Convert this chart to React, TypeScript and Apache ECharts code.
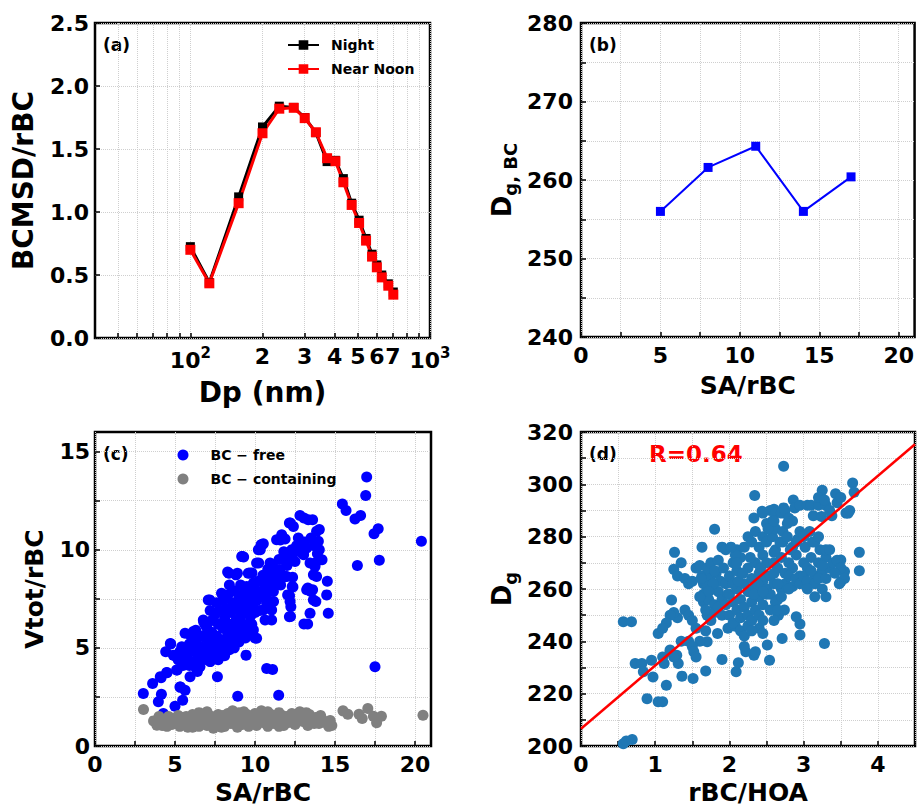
import React, { useEffect, useRef } from 'react';
import * as echarts from 'echarts';

// ---------- Panel (a) ----------
const DP_NM = [100, 120, 159, 200, 235, 270, 300, 334, 372, 403, 435, 471, 506, 541, 573, 600, 629, 670, 703];
const NIGHT = [0.725, 0.44, 1.12, 1.675, 1.84, 1.83, 1.75, 1.63, 1.40, 1.41, 1.265, 1.07, 0.935, 0.79, 0.665, 0.58, 0.50, 0.43, 0.365];
const NEAR_NOON = [0.70, 0.434, 1.07, 1.625, 1.82, 1.827, 1.745, 1.633, 1.427, 1.403, 1.236, 1.056, 0.913, 0.773, 0.646, 0.561, 0.481, 0.415, 0.344];
const LOG_TICKS = [50, 60, 70, 80, 90, 100, 200, 300, 400, 500, 600, 700, 800, 900, 1000];
const LOG_LABELS = [100, 200, 300, 400, 500, 600, 700, 1000];

// ---------- Panel (b) ----------
const SA_RBC_B = [5, 8, 11, 14, 17];
const DG_BC = [256.0, 261.6, 264.3, 256.0, 260.4];

// ---------- Panel (c) ----------
const BC_FREE: number[][] = [
  [3.02, 2.67], [3.6, 3.19], [3.96, 2.25], [4.15, 2.64], [4.13, 3.48], [4.27, 1.65], [4.48, 3.75], [4.42, 4.8],
  [4.73, 5.2], [4.9, 4.63], [5.0, 2.03], [5.1, 3.87], [5.31, 3.0], [5.48, 2.33], [5.63, 2.84], [5.94, 3.53],
  [5.63, 5.74], [6.15, 5.83], [5.42, 5.06], [5.83, 4.72], [6.35, 4.38], [6.56, 4.04], [6.77, 6.42], [7.08, 7.44],
  [7.65, 3.53], [8.92, 2.54], [9.44, 4.63], [9.17, 9.66], [9.58, 8.8], [8.29, 8.86], [8.81, 8.72], [10.73, 3.95],
  [11.1, 3.9], [11.48, 2.59], [12.15, 6.59], [13.06, 6.22], [13.29, 6.22], [13.44, 6.76], [13.65, 7.44], [13.23, 7.96],
  [13.6, 7.96], [12.04, 7.7], [12.19, 7.36], [12.33, 8.13], [12.35, 8.6], [10.21, 10.0], [10.38, 10.26], [10.52, 10.3],
  [10.1, 9.32], [10.94, 9.32], [11.35, 10.51], [11.67, 10.77], [11.88, 10.55], [12.15, 11.36], [12.4, 11.19], [12.81, 11.74],
  [13.06, 11.62], [13.33, 11.53], [13.6, 11.53], [13.85, 10.94], [13.96, 10.43], [14.02, 10.0], [14.06, 9.49], [13.75, 9.15],
  [13.65, 8.72], [13.85, 8.64], [13.44, 9.32], [12.71, 10.6], [12.92, 10.26], [13.23, 10.09], [13.02, 9.83], [12.29, 9.66],
  [11.77, 9.49], [11.56, 8.98], [11.67, 8.55], [11.98, 8.64], [11.15, 8.47], [10.73, 8.04], [11.15, 7.87], [10.73, 7.27],
  [11.04, 6.93], [11.04, 6.42], [10.63, 6.42], [10.52, 6.93], [10.1, 5.49], [9.9, 5.91], [10.31, 7.79], [9.9, 8.3],
  [9.48, 8.13], [16.98, 13.71], [16.92, 12.76], [15.46, 12.33], [15.69, 12.0], [16.25, 11.57], [16.6, 11.75], [17.7, 11.07],
  [17.44, 10.82], [20.4, 10.43], [16.4, 9.2], [17.77, 9.47], [17.5, 4.04], [14.58, 6.76], [14.48, 7.7], [14.52, 8.4],
  [5.5, 4.1], [5.7, 4.6], [5.9, 5.2], [6.0, 4.3], [6.1, 4.9], [6.2, 5.4], [6.3, 4.0], [6.4, 4.7], [6.5, 5.1], [6.6, 5.6],
  [6.7, 4.5], [6.8, 5.0], [6.9, 5.5], [7.0, 6.0], [7.0, 4.4], [7.1, 4.8], [7.2, 5.3], [7.3, 5.8], [7.3, 6.4], [7.4, 4.6],
  [7.5, 5.1], [7.5, 6.7], [7.6, 5.6], [7.7, 6.2], [7.7, 4.4], [7.8, 4.9], [7.8, 6.9], [7.9, 5.4], [8.0, 6.0], [8.0, 7.4],
  [8.1, 4.6], [8.1, 6.5], [8.2, 5.2], [8.2, 7.0], [8.3, 5.7], [8.3, 7.7], [8.4, 6.2], [8.4, 4.9], [8.5, 6.8], [8.5, 5.4],
  [8.6, 7.3], [8.6, 6.0], [8.7, 5.0], [8.7, 7.9], [8.8, 6.4], [8.8, 5.6], [8.9, 7.0], [8.9, 6.0], [9.0, 7.6], [9.0, 5.3],
  [9.1, 6.6], [9.1, 8.2], [9.2, 5.8], [9.2, 7.2], [9.3, 6.2], [9.3, 7.8], [9.4, 5.5], [9.4, 6.9], [9.5, 7.4], [9.5, 6.1],
  [9.6, 8.0], [9.6, 5.7], [9.7, 6.6], [9.7, 7.1], [9.8, 7.7], [9.8, 6.2], [9.9, 7.3], [10.0, 8.0], [10.0, 6.8], [10.1, 7.4],
  [10.2, 8.4], [10.3, 6.9], [10.4, 7.6], [10.5, 8.7], [10.6, 8.2], [10.7, 7.6], [10.8, 9.0], [10.9, 8.5], [11.0, 7.9], [11.1, 9.2],
  [11.2, 8.7], [11.3, 8.2], [11.5, 9.5], [11.6, 8.2], [11.8, 9.9], [12.0, 9.2], [12.3, 10.0], [12.5, 9.4], [12.6, 10.2], [12.8, 9.9],
  [13.1, 10.4], [13.5, 10.6], [13.7, 10.2], [13.9, 9.8], [6.8, 6.3], [7.2, 6.9], [7.6, 7.3], [8.0, 7.7], [8.4, 8.2], [6.3, 5.9],
  [6.0, 5.6], [5.8, 5.0], [5.6, 4.4], [5.2, 4.4], [5.3, 4.8], [5.0, 4.6], [5.9, 4.1], [6.4, 3.8], [7.2, 4.3], [6.9, 6.2],
  [7.18, 7.44], [7.91, 7.78], [8.37, 8.8], [8.9, 8.8], [9.21, 9.66], [9.67, 8.81], [6.24, 5.74], [6.9, 6.16], [4.71, 5.22],
  [4.5, 3.73], [4.08, 3.53], [5.34, 3.0], [5.13, 3.87], [10.43, 10.26], [10.33, 10.0], [9.29, 9.63], [11.9, 9.58], [12.3, 9.66],
  [13.04, 9.75], [14.19, 9.49], [13.77, 9.32], [11.02, 9.24], [10.23, 9.32], [9.81, 8.81], [11.27, 8.81], [11.9, 8.64],
  [11.06, 8.21], [10.43, 7.79], [11.16, 7.36], [12.24, 7.1], [10.0, 5.5], [12.22, 6.6], [13.8, 7.36], [13.5, 7.87],
  [12.16, 7.65], [12.37, 8.1], [13.3, 8.05], [14.02, 11.03], [12.21, 11.36], [11.58, 10.5]
];
const BC_CONTAINING: number[][] = [
  [3.03, 1.86], [3.66, 1.28], [3.87, 1.06], [4.1, 1.35], [4.2, 1.05], [4.4, 1.2], [4.6, 1.5], [4.8, 1.1], [4.9, 1.4],
  [5.0, 1.25], [5.2, 1.55], [5.3, 1.0], [5.4, 1.3], [5.6, 1.15], [5.7, 1.5], [5.8, 0.95], [5.9, 1.35], [6.1, 1.6],
  [6.2, 1.1], [6.3, 1.3], [6.5, 1.0], [6.6, 1.45], [6.7, 1.2], [6.9, 1.6], [7.0, 1.05], [7.1, 1.35], [7.3, 1.5],
  [7.4, 0.9], [7.5, 1.25], [7.7, 1.6], [7.8, 1.1], [7.9, 1.4], [8.1, 1.0], [8.2, 1.3], [8.3, 1.65], [8.5, 1.15],
  [8.6, 1.45], [8.8, 1.25], [8.9, 0.95], [9.0, 1.55], [9.2, 1.1], [9.3, 1.75], [9.4, 1.35], [9.6, 1.0], [9.7, 1.5],
  [9.8, 1.2], [10.0, 1.65], [10.1, 1.05], [10.2, 1.35], [10.4, 1.8], [10.5, 1.2], [10.6, 1.5], [10.8, 1.0], [10.9, 1.3],
  [11.0, 1.6], [11.2, 1.15], [11.4, 1.45], [11.5, 1.7], [11.6, 1.25], [11.8, 1.05], [12.0, 1.5], [12.2, 1.3], [12.3, 1.65],
  [12.5, 1.1], [12.6, 1.4], [12.8, 1.75], [13.0, 1.25], [13.1, 1.5], [13.3, 1.05], [13.4, 1.6], [13.6, 1.3], [13.8, 1.45],
  [14.0, 1.15], [14.2, 1.35], [14.4, 1.2], [14.6, 1.0], [14.7, 1.3], [15.5, 1.79], [15.8, 1.62], [16.5, 1.62], [16.7, 1.4],
  [17.05, 1.91], [17.4, 1.52], [17.6, 1.18], [17.9, 1.52], [20.5, 1.57], [5.1, 1.2], [5.5, 1.45], [6.0, 1.25], [6.4, 1.55],
  [6.8, 1.35], [7.2, 1.2], [7.6, 1.4], [8.0, 1.55], [8.4, 1.2], [8.7, 1.6], [9.1, 1.4], [9.5, 1.6], [9.9, 1.35], [10.3, 1.55],
  [10.7, 1.7], [11.1, 1.4], [11.7, 1.55], [12.1, 1.2], [12.7, 1.3], [13.2, 1.7], [13.7, 1.15], [14.1, 1.55], [4.5, 1.0], [4.0, 1.5],
  [6.5, 1.7], [7.0, 1.75], [8.6, 1.8], [9.0, 1.7], [10.8, 1.75], [12.9, 1.6], [14.8, 1.05], [6.1, 0.95], [7.9, 0.95], [11.5, 1.0]
];

// ---------- Panel (d) ----------
const RBC_HOA_DG: number[][] = [
  [2.73, 306.9], [0.57, 200.9], [0.61, 201.9], [0.69, 202.5], [0.57, 247.5], [0.68, 247.5], [0.73, 231.5], [0.82, 231.5],
  [0.84, 228.4], [0.95, 232.8], [0.97, 226.4], [0.89, 218.1], [1.04, 216.9], [1.1, 216.9], [1.15, 223.2], [1.04, 243],
  [1.1, 234], [1.12, 231.5], [1.22, 255.8], [1.2, 236.7], [1.29, 234.7], [1.31, 231.5], [1.36, 226.7], [1.51, 225.8],
  [1.68, 228.7], [1.9, 233.1], [2.09, 228.4], [2.12, 231.8], [2.33, 234.7], [2.22, 236], [2.54, 232.8], [2.51, 238.6],
  [3.28, 239.2], [1.7, 239.8], [1.84, 243], [1.98, 245], [2.08, 245.8], [2.71, 241.1], [2.95, 242.4], [2.95, 246.6],
  [2.9, 249.4], [2.66, 250], [2.74, 252], [1.8, 282.8], [1.63, 276], [1.26, 274], [2.34, 295.7], [2.33, 287.1],
  [2.44, 289.7], [3.66, 300.5], [3.68, 297], [3.25, 297.7], [3.43, 296.4], [3.75, 274], [3.75, 267], [3.57, 289],
  [3.5, 262.8], [3.55, 266.7], [3.5, 271.1], [3.13, 288], [3.24, 287.7], [2.86, 294], [2.73, 291], [2.6, 290.5],
  [1.25, 267.5], [1.3, 265], [1.35, 270], [1.4, 264], [1.45, 262], [1.5, 263], [1.55, 268], [1.6, 269], [1.63, 265],
  [1.65, 262], [1.4, 252], [1.45, 250], [1.5, 248], [1.55, 245], [1.6, 240], [1.45, 240], [1.5, 238], [1.52, 236],
  [1.55, 234], [1.3, 249], [1.25, 251], [1.2, 250], [1.15, 247], [1.1, 245], [1.35, 240], [1.2, 236], [1.25, 234],
  [1.68, 244], [1.7, 250], [1.65, 255], [1.65, 258], [1.7, 262], [1.72, 256], [1.75, 265], [1.78, 260], [1.8, 254],
  [1.82, 266], [1.85, 259], [1.88, 263], [1.9, 256], [1.7, 268], [1.75, 270], [1.8, 267], [1.85, 271], [1.9, 276],
  [1.95, 275], [1.92, 268], [1.95, 262], [1.98, 258], [1.68, 252], [1.75, 248], [1.8, 251], [1.85, 253], [1.9, 250],
  [1.95, 254], [1.78, 262], [1.72, 259], [1.62, 264], [1.6, 257], [2.0, 265], [2.05, 270], [2.1, 275], [2.15, 272],
  [2.2, 276], [2.25, 280], [2.3, 278], [2.35, 282], [2.4, 276], [2.45, 273], [2.5, 270], [2.0, 258], [2.05, 255],
  [2.1, 260], [2.15, 256], [2.2, 262], [2.25, 259], [2.3, 264], [2.35, 261], [2.4, 266], [2.45, 263], [2.5, 260],
  [2.0, 250], [2.05, 247], [2.1, 252], [2.15, 249], [2.2, 253], [2.25, 250], [2.3, 255], [2.35, 252], [2.4, 257],
  [2.45, 254], [2.5, 258], [2.15, 244], [2.2, 242], [2.25, 246], [2.3, 248], [2.4, 245], [2.45, 243], [2.4, 250],
  [2.05, 262], [2.1, 267], [2.25, 268], [2.35, 270], [2.45, 280], [2.5, 278], [2.55, 284], [2.5, 285], [2.58, 286],
  [2.08, 273], [2.12, 263], [2.18, 266], [2.28, 272], [2.33, 258], [2.38, 262], [2.42, 268], [2.48, 265], [2.02, 276],
  [2.1, 270], [2.3, 244], [2.2, 238], [2.35, 236], [2.45, 248], [2.55, 265], [2.6, 270], [2.62, 275], [2.65, 268],
  [2.7, 272], [2.72, 278], [2.75, 266], [2.8, 270], [2.82, 275], [2.85, 268], [2.9, 273], [2.92, 279], [2.95, 265],
  [3.0, 270], [3.02, 276], [3.05, 268], [3.1, 272], [3.12, 278], [3.15, 265], [3.2, 270], [3.22, 275], [3.25, 267],
  [3.3, 272], [3.35, 268], [3.4, 270], [2.55, 258], [2.6, 262], [2.65, 256], [2.7, 260], [2.75, 262], [2.8, 265],
  [2.85, 261], [2.9, 264], [2.95, 262], [3.0, 265], [3.05, 263], [3.1, 267], [3.15, 262], [3.2, 264], [3.3, 264],
  [3.25, 260], [3.3, 257], [3.15, 257], [3.05, 260], [2.58, 280], [2.62, 283], [2.68, 278], [2.72, 282], [2.78, 280],
  [2.85, 276], [2.9, 278], [2.95, 282], [3.0, 280], [3.08, 282], [3.15, 278], [3.2, 280], [3.3, 275], [3.45, 271],
  [3.5, 268], [3.55, 264], [2.62, 255], [2.55, 252], [2.6, 248], [2.65, 252], [2.7, 257], [2.8, 260], [2.55, 290],
  [2.62, 289], [2.7, 289], [2.75, 290], [2.8, 287], [2.85, 286], [2.88, 291], [2.95, 292], [3.05, 292], [3.1, 292],
  [3.2, 292], [3.3, 292], [3.35, 290], [3.38, 288], [3.45, 293], [3.5, 295], [3.6, 289], [3.62, 290], [3.2, 295],
  [3.28, 294], [2.45, 289], [2.52, 283], [2.6, 286], [2.78, 285], [3.25, 269], [3.35, 275], [3.42, 266], [3.48, 262],
  [2.6, 274], [2.65, 262], [2.45, 259], [2.6, 266]
];
const FIT_X = [0, 4.5];
const FIT_Y = [206.6, 315.3];
const R_TEXT = 'R=0.64';

// ---------- Ticks ----------
const B_X_TICKS = [0, 2.5, 5, 7.5, 10, 12.5, 15, 17.5, 20];
const B_X_LABELS = [0, 5, 10, 15, 20];
const B_Y_TICKS = [240, 245, 250, 255, 260, 265, 270, 275, 280];
const B_Y_LABELS = [240, 250, 260, 270, 280];
const C_Y_TICKS = [0, 2.5, 5, 7.5, 10, 12.5, 15];
const C_Y_LABELS = [0, 5, 10, 15];
const D_X_TICKS = [0, 0.5, 1, 1.5, 2, 2.5, 3, 3.5, 4, 4.5];
const D_X_LABELS = [0, 1, 2, 3, 4];
const D_Y_TICKS = [200, 210, 220, 230, 240, 250, 260, 270, 280, 290, 300, 310, 320];
const D_Y_LABELS = [200, 220, 240, 260, 280, 300, 320];

const FONT = '"DejaVu Sans", Verdana, sans-serif';

const tick = (vals: number[]) => ({
  show: true, inside: true, length: 5, customValues: vals,
  lineStyle: { color: '#000', width: 1.5 },
});
const split = { show: true, lineStyle: { color: '#cfcfcf', type: 'dotted', width: 1 } };
const lbl = (vals: number[], margin: number) => ({
  customValues: vals, color: '#000', fontFamily: FONT, fontWeight: 'bold', fontSize: 22, margin,
});
const nameStyle = (size: number) => ({ color: '#000', fontFamily: FONT, fontWeight: 'bold', fontSize: size });

export default function App() {
  const ref = useRef<HTMLDivElement>(null);
  useEffect(() => {
    if (!ref.current) return;
    const chart = echarts.init(ref.current, undefined, { renderer: 'svg' });
    const gridBase = { show: true, borderColor: '#000', borderWidth: 2.5, backgroundColor: 'transparent', containLabel: false };
    const lg = (v: number) => Math.log10(v);
    const option: any = {
      animation: false,
      backgroundColor: '#fff',
      grid: [
        { ...gridBase, left: 95, top: 23, width: 335, height: 315 },
        { ...gridBase, left: 581, top: 23, width: 334, height: 314 },
        { ...gridBase, left: 95, top: 432, width: 336, height: 314 },
        { ...gridBase, left: 581, top: 432, width: 334, height: 314 },
      ],
      xAxis: [
        {
          gridIndex: 0, type: 'value', min: lg(40), max: 3,
          axisLine: { show: false },
          axisTick: tick(LOG_TICKS.map(lg)),
          splitLine: split,
          axisLabel: {
            ...lbl(LOG_LABELS.map(lg), 7),
            formatter: (v: number) => {
              const n = Math.round(Math.pow(10, v));
              if (n === 100) return '{b|10}{s|2}';
              if (n === 1000) return '{b|10}{s|3}';
              return '{b|' + n / 100 + '}';
            },
            rich: {
              b: { fontSize: 22, fontWeight: 'bold', fontFamily: FONT, color: '#000', verticalAlign: 'bottom' },
              s: { fontSize: 15, fontWeight: 'bold', fontFamily: FONT, color: '#000', verticalAlign: 'bottom', padding: [0, 0, 11, 0] },
            },
          },
          name: 'Dp (nm)', nameLocation: 'middle', nameGap: 40, nameTextStyle: nameStyle(28),
        },
        {
          gridIndex: 1, type: 'value', min: 0, max: 21,
          axisLine: { show: false }, axisTick: tick(B_X_TICKS), splitLine: split, axisLabel: lbl(B_X_LABELS, 7),
          name: 'SA/rBC', nameLocation: 'middle', nameGap: 36, nameTextStyle: nameStyle(25),
        },
        {
          gridIndex: 2, type: 'value', min: 0, max: 21,
          axisLine: { show: false }, axisTick: tick(B_X_TICKS), splitLine: split, axisLabel: lbl(B_X_LABELS, 7),
          name: 'SA/rBC', nameLocation: 'middle', nameGap: 34, nameTextStyle: nameStyle(25),
        },
        {
          gridIndex: 3, type: 'value', min: 0, max: 4.5,
          axisLine: { show: false }, axisTick: tick(D_X_TICKS), splitLine: split, axisLabel: lbl(D_X_LABELS, 7),
          name: 'rBC/HOA', nameLocation: 'middle', nameGap: 34, nameTextStyle: nameStyle(25),
        },
      ],
      yAxis: [
        {
          gridIndex: 0, type: 'value', min: 0, max: 2.5, interval: 0.5,
          axisLine: { show: false },
          axisTick: { show: true, inside: true, length: 5, lineStyle: { color: '#000', width: 1.5 } },
          splitLine: split,
          axisLabel: { color: '#000', fontFamily: FONT, fontWeight: 'bold', fontSize: 22, margin: 6, formatter: (v: number) => v.toFixed(1) },
          name: 'BCMSD/rBC', nameLocation: 'middle', nameRotate: 90, nameGap: 58, nameTextStyle: nameStyle(28),
        },
        {
          gridIndex: 1, type: 'value', min: 240, max: 280,
          axisLine: { show: false }, axisTick: tick(B_Y_TICKS), splitLine: split, axisLabel: lbl(B_Y_LABELS, 8),
          name: '{d|D}{s|g, BC}', nameLocation: 'middle', nameRotate: 90, nameGap: 62,
          nameTextStyle: {
            ...nameStyle(26),
            rich: {
              d: { fontSize: 26, fontWeight: 'bold', fontFamily: FONT, color: '#000', verticalAlign: 'top' },
              s: { fontSize: 18, fontWeight: 'bold', fontFamily: FONT, color: '#000', verticalAlign: 'top', padding: [12, 0, 0, 0] },
            },
          },
        },
        {
          gridIndex: 2, type: 'value', min: 0, max: 16,
          axisLine: { show: false }, axisTick: tick(C_Y_TICKS), splitLine: split, axisLabel: lbl(C_Y_LABELS, 5),
          name: 'Vtot/rBC', nameLocation: 'middle', nameRotate: 90, nameGap: 48, nameTextStyle: nameStyle(25),
        },
        {
          gridIndex: 3, type: 'value', min: 200, max: 320,
          axisLine: { show: false }, axisTick: tick(D_Y_TICKS), splitLine: split, axisLabel: lbl(D_Y_LABELS, 8),
          name: '{d|D}{s|g}', nameLocation: 'middle', nameRotate: 90, nameGap: 62,
          nameTextStyle: {
            ...nameStyle(26),
            rich: {
              d: { fontSize: 26, fontWeight: 'bold', fontFamily: FONT, color: '#000', verticalAlign: 'top' },
              s: { fontSize: 18, fontWeight: 'bold', fontFamily: FONT, color: '#000', verticalAlign: 'top', padding: [12, 0, 0, 0] },
            },
          },
        },
      ],
      legend: [
        {
          data: ['Night', 'Near Noon'], orient: 'vertical', left: 287, top: 38, padding: 0,
          itemWidth: 31, itemHeight: 12, itemGap: 10,
          textStyle: { color: '#000', fontFamily: FONT, fontWeight: 'bold', fontSize: 14, padding: [0, 0, 0, 7] },
        },
        {
          data: ['BC − free', 'BC − containing'], orient: 'vertical', left: 177.5, top: 448, padding: 0,
          itemWidth: 11, itemHeight: 11, itemGap: 10,
          textStyle: { color: '#000', fontFamily: FONT, fontWeight: 'bold', fontSize: 14, padding: [0, 0, 0, 17] },
        },
      ],
      series: [
        {
          name: 'Night', type: 'line', xAxisIndex: 0, yAxisIndex: 0,
          data: DP_NM.map((d, i) => [lg(d), NIGHT[i]]),
          symbol: 'rect', symbolSize: 9, color: '#000',
          lineStyle: { color: '#000', width: 3 }, itemStyle: { color: '#000' },
        },
        {
          name: 'Near Noon', type: 'line', xAxisIndex: 0, yAxisIndex: 0,
          data: DP_NM.map((d, i) => [lg(d), NEAR_NOON[i]]),
          symbol: 'rect', symbolSize: 10, color: '#ff0000',
          lineStyle: { color: '#ff0000', width: 3 }, itemStyle: { color: '#ff0000' },
        },
        {
          name: 'Dg_BC', type: 'line', xAxisIndex: 1, yAxisIndex: 1,
          data: SA_RBC_B.map((x, i) => [x, DG_BC[i]]),
          symbol: 'rect', symbolSize: 9,
          lineStyle: { color: '#0000ff', width: 2 }, itemStyle: { color: '#0000ff' },
        },
        {
          name: 'BC − free', type: 'scatter', xAxisIndex: 2, yAxisIndex: 2,
          data: BC_FREE, symbolSize: 11, itemStyle: { color: '#0000ff', opacity: 1 }, color: '#0000ff',
        },
        {
          name: 'BC − containing', type: 'scatter', xAxisIndex: 2, yAxisIndex: 2,
          data: BC_CONTAINING, symbolSize: 11, itemStyle: { color: '#808080', opacity: 1 }, color: '#808080',
        },
        {
          name: 'Dg', type: 'scatter', xAxisIndex: 3, yAxisIndex: 3,
          data: RBC_HOA_DG, symbolSize: 11, itemStyle: { color: '#1f77b4', opacity: 1 },
        },
        {
          name: 'fit', type: 'line', xAxisIndex: 3, yAxisIndex: 3,
          data: FIT_X.map((x, i) => [x, FIT_Y[i]]),
          symbol: 'none', lineStyle: { color: '#ff0000', width: 2.5 }, z: 5,
        },
      ],
      graphic: [
        { type: 'text', left: 103, top: 36, style: { text: '(a)', font: 'bold 17px "DejaVu Sans"', fill: '#000' } },
        { type: 'text', left: 589, top: 36, style: { text: '(b)', font: 'bold 17px "DejaVu Sans"', fill: '#000' } },
        { type: 'text', left: 103, top: 445, style: { text: '(c)', font: 'bold 17px "DejaVu Sans"', fill: '#000' } },
        { type: 'text', left: 589, top: 445, style: { text: '(d)', font: 'bold 17px "DejaVu Sans"', fill: '#000' } },
        { type: 'text', left: 649, top: 442, style: { text: R_TEXT, font: 'bold 23px "DejaVu Sans"', fill: '#ff0000' } },
      ],
    };
    chart.setOption(option);
    return () => chart.dispose();
  }, []);
  return (
    <div
      ref={ref}
      style={{ position: 'fixed', left: 0, top: 0, width: 917, height: 806, background: '#fff' }}
    />
  );
}
